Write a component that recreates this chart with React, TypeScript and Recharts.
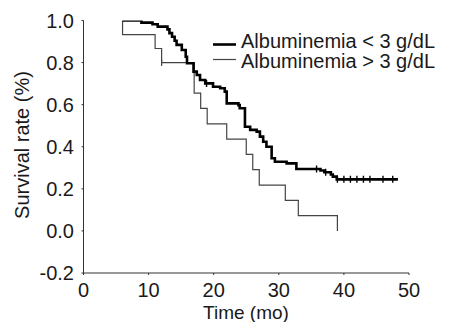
import { ComposedChart, Line, Scatter, XAxis, YAxis } from "recharts";

// Albuminemia < 3 g/dL (thick curve)
const lowTimes = [6, 8.9, 10.6, 11.4, 12.9, 13.2, 13.6, 14.0, 14.3, 15.1, 15.7, 15.9, 16.9, 17.4, 17.9, 18.7, 19.9, 21.0, 21.7, 22.0, 23.8, 24.0, 24.8, 25.6, 26.6, 27.1, 27.6, 28.1, 28.9, 29.4, 31.2, 32.7, 36.4, 37.0, 38.0, 38.3, 38.9, 48.3];
const lowSurv = [1.0, 0.99, 0.982, 0.971, 0.958, 0.94, 0.923, 0.904, 0.884, 0.86, 0.828, 0.797, 0.757, 0.741, 0.717, 0.701, 0.685, 0.678, 0.662, 0.606, 0.598, 0.583, 0.495, 0.48, 0.472, 0.448, 0.424, 0.4, 0.345, 0.329, 0.321, 0.294, 0.287, 0.279, 0.268, 0.258, 0.245, 0.245];
const lowCensorTimes = [18.9, 35.8, 37.2, 39, 40, 41, 42, 43, 44, 46, 47.5];
const lowCensorSurv = [0.701, 0.294, 0.279, 0.245, 0.245, 0.245, 0.245, 0.245, 0.245, 0.245, 0.245];

// Albuminemia > 3 g/dL (thin curve)
const highTimes = [6, 6, 11, 12, 17, 18, 19, 22, 25, 26, 27, 31, 33, 39];
const highSurv = [1.0, 0.933, 0.867, 0.8, 0.655, 0.582, 0.509, 0.436, 0.364, 0.291, 0.218, 0.145, 0.073, 0.0];
const highCensorTimes = [12];
const highCensorSurv = [0.8];

const xTicks = [0, 10, 20, 30, 40, 50];
const yTicks = [-0.2, 0, 0.2, 0.4, 0.6, 0.8, 1.0];

const lowData = lowTimes.map((t, i) => ({ t, s: lowSurv[i] }));
const highData = highTimes.map((t, i) => ({ t, s: highSurv[i] }));
const lowCensor = lowCensorTimes.map((t, i) => ({ t, s: lowCensorSurv[i] }));
const highCensor = highCensorTimes.map((t, i) => ({ t, s: highCensorSurv[i] }));

const FONT = "'Liberation Sans', Arial, sans-serif";
const AXIS = "#333";
const TEXT = "#1a1a1a";

const CensorMark = (props: any) => {
  const { cx, cy, stroke, strokeWidth } = props;
  return <line x1={cx} y1={cy - 3.5} x2={cx} y2={cy + 3.5} stroke={stroke} strokeWidth={strokeWidth} />;
};

export default function App() {
  return (
    <div style={{ position: "absolute", left: 0, top: 0, width: 449, height: 322, background: "#fff", fontFamily: FONT }}>
      <ComposedChart width={449} height={322} margin={{ top: 20.5, right: 40, bottom: 19, left: 0 }}>
        <XAxis
          dataKey="t"
          type="number"
          domain={[0, 50]}
          ticks={xTicks}
          height={30}
          tickSize={2}
          tickMargin={7.5}
          tick={{ fill: TEXT, fontSize: 20, fontFamily: FONT }}
          stroke={AXIS}
          allowDataOverflow
          label={{
            content: () => (
              <text x={246} y={319} textAnchor="middle" fill={TEXT} fontSize={19} fontFamily={FONT}>
                Time (mo)
              </text>
            ),
          }}
        />
        <YAxis
          type="number"
          domain={[-0.2, 1.0]}
          ticks={yTicks}
          width={83.5}
          tickSize={2}
          tickMargin={7.5}
          tickFormatter={(v: number) => v.toFixed(1)}
          tick={{ fill: TEXT, fontSize: 20, fontFamily: FONT }}
          stroke={AXIS}
          allowDataOverflow
          label={{
            content: () => (
              <text
                x={29}
                y={145}
                textAnchor="middle"
                fill={TEXT}
                fontSize={20}
                fontFamily={FONT}
                transform="rotate(-90 29 145)"
              >
                Survival rate (%)
              </text>
            ),
          }}
        />
        <Line
          data={highData}
          dataKey="s"
          type="stepAfter"
          stroke="#444"
          strokeWidth={1.2}
          dot={false}
          activeDot={false}
          isAnimationActive={false}
        />
        <Line
          data={lowData}
          dataKey="s"
          type="stepAfter"
          stroke="#000"
          strokeWidth={2.6}
          dot={false}
          activeDot={false}
          isAnimationActive={false}
        />
        <Scatter data={highCensor} dataKey="s" stroke="#444" strokeWidth={1.2} shape={CensorMark} isAnimationActive={false} />
        <Scatter data={lowCensor} dataKey="s" stroke="#000" strokeWidth={1.4} shape={CensorMark} isAnimationActive={false} />
      </ComposedChart>
      <svg width={449} height={80} style={{ position: "absolute", left: 0, top: 0, pointerEvents: "none" }}>
        <line x1={213} y1={44.5} x2={236} y2={44.5} stroke="#000" strokeWidth={2.6} />
        <text x={241} y={48} fontSize={20} fill={TEXT} fontFamily={FONT}>
          Albuminemia &lt; 3 g/dL
        </text>
        <line x1={213} y1={59.5} x2={236} y2={59.5} stroke="#444" strokeWidth={1.2} />
        <text x={241} y={68} fontSize={20} fill={TEXT} fontFamily={FONT}>
          Albuminemia &gt; 3 g/dL
        </text>
      </svg>
    </div>
  );
}
